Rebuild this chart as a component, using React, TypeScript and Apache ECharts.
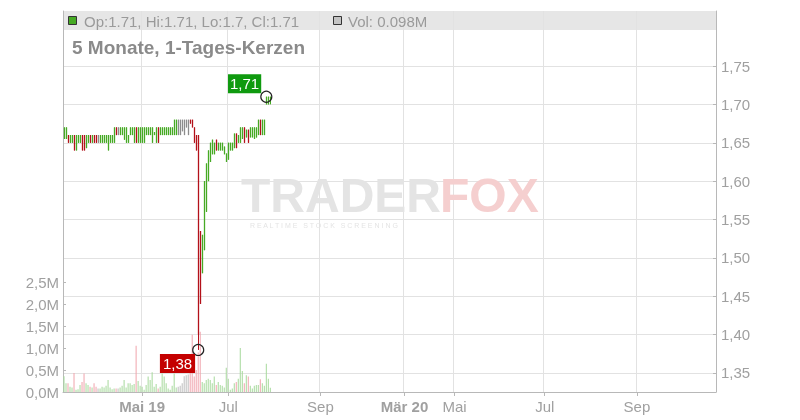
import React, { useEffect, useRef } from 'react';
import * as echarts from 'echarts';

// ---- data ----
const opens = [
  1.655, 1.655, 1.66, 1.65, 1.65, 1.66, 1.64, 1.65, 1.65, 1.66,
  1.66, 1.643, 1.65, 1.66, 1.65, 1.66, 1.66, 1.66, 1.65, 1.65,
  1.65, 1.65, 1.64, 1.65, 1.65, 1.65, 1.67, 1.66, 1.66, 1.66,
  1.654, 1.65, 1.65, 1.66, 1.66, 1.65, 1.67, 1.65, 1.65, 1.65,
  1.65, 1.66, 1.66, 1.66, 1.65, 1.66, 1.65, 1.67, 1.66, 1.66,
  1.66, 1.66, 1.66, 1.66, 1.66, 1.66, 1.66, 1.66, 1.66, 1.665,
  1.66, 1.67, 1.66, 1.68, 1.68, 1.67, 1.66, 1.66, 1.535, 1.48,
  1.51, 1.56, 1.60, 1.625, 1.635, 1.635, 1.654, 1.64, 1.64, 1.64,
  1.635, 1.625, 1.628, 1.64, 1.64, 1.643, 1.662, 1.65, 1.65, 1.655,
  1.67, 1.657, 1.667, 1.657, 1.657, 1.655, 1.657, 1.66, 1.68, 1.66,
  1.66, 1.70, 1.70, 1.71,
];
const closes = [
  1.67, 1.67, 1.65, 1.66, 1.66, 1.64, 1.66, 1.66, 1.66, 1.64,
  1.64, 1.66, 1.66, 1.65, 1.66, 1.65, 1.65, 1.65, 1.66, 1.66,
  1.66, 1.66, 1.66, 1.66, 1.66, 1.67, 1.66, 1.67, 1.67, 1.67,
  1.67, 1.67, 1.66, 1.67, 1.67, 1.67, 1.65, 1.67, 1.67, 1.67,
  1.67, 1.67, 1.67, 1.67, 1.67, 1.664, 1.67, 1.65, 1.67, 1.67,
  1.67, 1.67, 1.67, 1.67, 1.67, 1.68, 1.68, 1.68, 1.68, 1.68,
  1.68, 1.68, 1.68, 1.675, 1.67, 1.65, 1.64, 1.40, 1.44, 1.53,
  1.60, 1.623, 1.64, 1.65, 1.654, 1.65, 1.64, 1.65, 1.65, 1.65,
  1.645, 1.636, 1.65, 1.65, 1.65, 1.662, 1.643, 1.66, 1.67, 1.67,
  1.65, 1.667, 1.65, 1.67, 1.67, 1.67, 1.67, 1.68, 1.66, 1.68,
  1.68, 1.71, 1.71, 1.71,
];
const lows = [
  1.655, 1.655, 1.65, 1.65, 1.65, 1.64, 1.64, 1.65, 1.65, 1.64,
  1.64, 1.643, 1.65, 1.65, 1.65, 1.65, 1.65, 1.65, 1.65, 1.65,
  1.65, 1.65, 1.64, 1.65, 1.65, 1.65, 1.66, 1.66, 1.66, 1.66,
  1.654, 1.65, 1.65, 1.66, 1.66, 1.65, 1.65, 1.65, 1.65, 1.65,
  1.65, 1.66, 1.66, 1.66, 1.65, 1.66, 1.65, 1.65, 1.66, 1.66,
  1.66, 1.66, 1.66, 1.66, 1.66, 1.66, 1.66, 1.66, 1.66, 1.665,
  1.66, 1.67, 1.66, 1.675, 1.67, 1.65, 1.64, 1.38, 1.44, 1.48,
  1.51, 1.56, 1.60, 1.625, 1.635, 1.635, 1.64, 1.64, 1.64, 1.64,
  1.635, 1.625, 1.628, 1.64, 1.64, 1.643, 1.643, 1.65, 1.65, 1.655,
  1.65, 1.657, 1.65, 1.657, 1.657, 1.655, 1.657, 1.66, 1.66, 1.66,
  1.66, 1.70, 1.70, 1.70,
];
const highs = [
  1.67, 1.67, 1.66, 1.66, 1.66, 1.66, 1.66, 1.66, 1.66, 1.66,
  1.66, 1.66, 1.66, 1.66, 1.66, 1.66, 1.66, 1.66, 1.66, 1.66,
  1.66, 1.66, 1.66, 1.66, 1.66, 1.67, 1.67, 1.67, 1.67, 1.67,
  1.67, 1.67, 1.66, 1.67, 1.67, 1.67, 1.67, 1.67, 1.67, 1.67,
  1.67, 1.67, 1.67, 1.67, 1.67, 1.664, 1.67, 1.67, 1.67, 1.67,
  1.67, 1.67, 1.67, 1.67, 1.67, 1.68, 1.68, 1.68, 1.68, 1.68,
  1.68, 1.68, 1.68, 1.68, 1.68, 1.67, 1.66, 1.66, 1.535, 1.53,
  1.60, 1.623, 1.64, 1.65, 1.654, 1.65, 1.654, 1.65, 1.65, 1.65,
  1.645, 1.636, 1.65, 1.65, 1.65, 1.662, 1.662, 1.66, 1.67, 1.67,
  1.67, 1.667, 1.667, 1.67, 1.67, 1.67, 1.67, 1.68, 1.68, 1.68,
  1.68, 1.71, 1.71, 1.71,
];
// g = up, r = down, n = unchanged
const tones = [
  'g', 'g', 'r', 'g', 'g', 'r', 'g', 'g', 'g', 'r',
  'r', 'g', 'g', 'r', 'g', 'r', 'r', 'n', 'g', 'g',
  'g', 'g', 'g', 'g', 'g', 'g', 'r', 'n', 'g', 'g',
  'g', 'g', 'g', 'g', 'g', 'g', 'r', 'g', 'g', 'g',
  'g', 'g', 'g', 'g', 'g', 'g', 'g', 'r', 'g', 'g',
  'g', 'g', 'g', 'g', 'g', 'g', 'g', 'n', 'n', 'n',
  'n', 'n', 'n', 'r', 'r', 'r', 'r', 'r', 'r', 'g',
  'g', 'g', 'g', 'g', 'g', 'g', 'r', 'g', 'g', 'g',
  'g', 'g', 'g', 'g', 'g', 'g', 'r', 'g', 'g', 'g',
  'r', 'g', 'r', 'g', 'g', 'g', 'g', 'g', 'r', 'g',
  'g', 'g', 'g', 'g',
];
// volume in millions
const volumes = [
  0.36, 0.2, 0.2, 0.12, 0.1, 0.43, 0.05, 0.06, 0.16, 0.23,
  0.42, 0.2, 0.16, 0.12, 0.1, 0.2, 0.12, 0.08, 0.08, 0.12,
  0.1, 0.14, 0.27, 0.1, 0.06, 0.08, 0.08, 0.08, 0.1, 0.14,
  0.27, 0.1, 0.2, 0.2, 0.16, 0.18, 1.05, 0.25, 0.14, 0.12,
  0.05, 0.16, 0.35, 0.27, 0.45, 0.12, 0.18, 0.08, 0.12, 0.42,
  0.35, 0.2, 0.08, 0.05, 0.14, 0.42, 0.1, 0.12, 0.14, 0.2,
  0.36, 0.38, 0.4, 0.67, 1.3, 0.35, 0.5, 0.9, 1.37, 0.23,
  0.2, 0.27, 0.3, 0.27, 0.2, 0.35, 0.16, 0.23, 0.16, 0.14,
  0.1, 0.55, 0.3, 0.05, 0.08, 0.2, 0.23, 0.3, 1.0, 0.48,
  0.2, 0.38, 0.35, 0.14, 0.08, 0.14, 0.16, 0.16, 0.29, 0.2,
  0.14, 0.64, 0.3, 0.098,
];
const slotCount = 326;
const tickLabels = ['Mai 19', 'Jul', 'Sep', 'Mär 20', 'Mai', 'Jul', 'Sep'];
const tickSlots = [39, 82, 128, 170, 195, 240, 286];
const yearLabels = ['Mai 19', 'Mär 20'];
const priceTicks = [1.35, 1.4, 1.45, 1.5, 1.55, 1.6, 1.65, 1.7, 1.75];
const volumeTicks = [0, 0.5, 1, 1.5, 2, 2.5];
const lastBar = { op: '1.71', hi: '1.71', lo: '1.7', cl: '1.71', vol: '0.098M' };
const titleText = '5 Monate, 1-Tages-Kerzen';
const markers = [
  { index: 101, price: 1.71, label: '1,71', kind: 'high' },
  { index: 67, price: 1.38, label: '1,38', kind: 'low' },
];

const FONT = '"Liberation Sans", Arial, sans-serif';
const CANDLE: Record<string, string> = { g: '#46aa24', r: '#b3111a', n: '#8c8c8c' };
const VOL: Record<string, string> = { g: '#a6d99b', r: '#f0a3ac', n: '#bdbdbd' };
const AXIS = '#b8b8b8';
const GRID = '#e2e2e2';
const TXT = '#a0a0a0';

export default function App() {
  const ref = useRef<HTMLDivElement>(null);
  useEffect(() => {
    if (!ref.current) return;
    const chart = echarts.init(ref.current, undefined, { renderer: 'svg' });
    const categories = Array.from({ length: slotCount }, (_, i) => 'd' + i);
    const labelAt: Record<number, string> = {};
    tickSlots.forEach((s, k) => (labelAt[s] = tickLabels[k]));
    const isTick = (i: number) => labelAt[i] !== undefined;

    const candleData = opens.map((o, i) => [i, o, closes[i], lows[i], highs[i]]);
    const volData = volumes.map((v, i) => ({ value: v, itemStyle: { color: VOL[tones[i]] } }));

    const renderCandle = (params: any, api: any) => {
      const i = api.value(0);
      const o = api.value(1);
      const c = api.value(2);
      const l = api.value(3);
      const h = api.value(4);
      const color = CANDLE[tones[params.dataIndex]];
      const pO = api.coord([i, o]);
      const pC = api.coord([i, c]);
      const pL = api.coord([i, l]);
      const pH = api.coord([i, h]);
      const cx = Math.floor(pO[0]) + 0.5;
      const w = 1.3;
      const top = Math.min(pO[1], pC[1]);
      const bottom = Math.max(pO[1], pC[1]);
      return {
        type: 'group',
        children: [
          {
            type: 'line',
            shape: { x1: cx, y1: pH[1], x2: cx, y2: pL[1] },
            style: { stroke: color, lineWidth: 1 },
          },
          {
            type: 'rect',
            shape: { x: cx - w / 2, y: top, width: w, height: Math.max(bottom - top, 1) },
            style: { fill: color },
          },
        ],
      };
    };

    const option: any = {
      animation: false,
      grid: { left: 63, top: 11, width: 653, height: 381, containLabel: false },
      xAxis: {
        type: 'category',
        data: categories,
        boundaryGap: true,
        axisLine: { show: true, lineStyle: { color: AXIS } },
        axisTick: { show: true, interval: (i: number) => isTick(i), alignWithLabel: true, length: 4, lineStyle: { color: AXIS } },
        axisLabel: {
          interval: (i: number) => isTick(i),
          formatter: (_v: string, i: number) => {
            const t = labelAt[i];
            if (t === undefined) return '';
            return yearLabels.includes(t) ? `{b|${t}}` : t;
          },
          color: TXT,
          fontSize: 15,
          fontFamily: FONT,
          margin: 7,
          rich: { b: { fontWeight: 'bold', fontSize: 15, fontFamily: FONT, color: TXT } },
        },
        splitLine: { show: true, interval: (i: number) => isTick(i), lineStyle: { color: GRID } },
      },
      yAxis: [
        {
          type: 'value',
          position: 'right',
          min: 1.3252,
          max: 1.8217,
          axisLine: { show: true, lineStyle: { color: AXIS } },
          axisTick: { show: true, inside: true, length: 3, customValues: priceTicks, lineStyle: { color: AXIS } },
          axisLabel: {
            customValues: priceTicks,
            formatter: (v: number) => v.toFixed(2).replace('.', ','),
            color: TXT,
            fontSize: 15,
            fontFamily: FONT,
            margin: 5,
          },
          splitLine: { show: true, lineStyle: { color: GRID } },
        },
        {
          type: 'value',
          position: 'left',
          min: 0,
          max: 8.66,
          axisLine: { show: true, lineStyle: { color: AXIS } },
          axisTick: { show: true, inside: true, length: 3, customValues: volumeTicks, lineStyle: { color: AXIS } },
          axisLabel: {
            customValues: volumeTicks,
            formatter: (v: number) => v.toFixed(1).replace('.', ',') + 'M',
            color: TXT,
            fontSize: 15,
            fontFamily: FONT,
            margin: 4,
          },
          splitLine: { show: false },
        },
      ],
      series: [
        {
          type: 'bar',
          xAxisIndex: 0,
          yAxisIndex: 1,
          data: volData,
          barWidth: 1,
          z: 1,
          silent: true,
        },
        {
          type: 'custom',
          xAxisIndex: 0,
          yAxisIndex: 0,
          data: candleData,
          encode: { x: 0, y: [1, 2, 3, 4] },
          renderItem: renderCandle,
          z: 3,
          silent: true,
        },
        {
          type: 'scatter',
          xAxisIndex: 0,
          yAxisIndex: 0,
          symbol: 'circle',
          symbolSize: 11,
          z: 6,
          silent: true,
          itemStyle: { color: 'rgba(255,255,255,0)', borderColor: '#222', borderWidth: 1.2, opacity: 1 },
          data: markers.map((m) => ({
            value: [m.index, m.price],
            label: {
              show: true,
              position: 'left',
              distance: 0,
              offset: m.kind === 'high' ? [1, -13] : [3, 13.5],
              formatter: m.label,
              backgroundColor: m.kind === 'high' ? '#0f9a0f' : '#c40000',
              color: '#ffffff',
              fontSize: 15,
              lineHeight: 15,
              fontFamily: FONT,
              padding: m.kind === 'high' ? [2, 2] : [2, 3],
              opacity: 1,
            },
          })),
        },
      ],
      graphic: [
        { type: 'rect', z: -1, shape: { x: 63, y: 11, width: 653, height: 19 }, style: { fill: '#e6e6e6' } },
        { type: 'rect', z: 5, shape: { x: 68.5, y: 16.5, width: 8, height: 8 }, style: { fill: '#46aa24', stroke: '#333', lineWidth: 1 } },
        {
          type: 'text', z: 5, x: 84, y: 21,
          style: { text: `Op:${lastBar.op}, Hi:${lastBar.hi}, Lo:${lastBar.lo}, Cl:${lastBar.cl}`, fill: '#9a9a9a', font: `15px ${FONT}`, verticalAlign: 'middle' },
        },
        { type: 'rect', z: 5, shape: { x: 333.5, y: 16.5, width: 8, height: 8 }, style: { fill: '#c4c4c4', stroke: '#333', lineWidth: 1 } },
        {
          type: 'text', z: 5, x: 348, y: 21,
          style: { text: `Vol: ${lastBar.vol}`, fill: '#9a9a9a', font: `15px ${FONT}`, verticalAlign: 'middle' },
        },
        {
          type: 'text', z: 5, x: 72, y: 47,
          style: { text: titleText, fill: '#8a8a8a', font: `bold 19px ${FONT}`, verticalAlign: 'middle' },
        },
        {
          type: 'text', z: 1, x: 241, y: 195,
          style: { text: 'TRADER', fill: '#e4e4e4', font: `bold 48px ${FONT}`, lineHeight: 34, verticalAlign: 'middle' },
        },
        {
          type: 'text', z: 1, x: 440, y: 195,
          style: { text: 'FOX', fill: '#f5cfcf', font: `bold 48px ${FONT}`, lineHeight: 34, verticalAlign: 'middle' },
        },
        {
          type: 'text', z: 1, x: 250, y: 225,
          style: { text: 'R E A L T I M E   S T O C K   S C R E E N I N G', fill: '#e4e4e4', font: `7px ${FONT}`, lineHeight: 7, verticalAlign: 'middle' },
        },
      ],
    };
    chart.setOption(option);
    return () => chart.dispose();
  }, []);
  return <div ref={ref} style={{ position: 'fixed', left: 0, top: 0, width: 800, height: 420 }} />;
}
